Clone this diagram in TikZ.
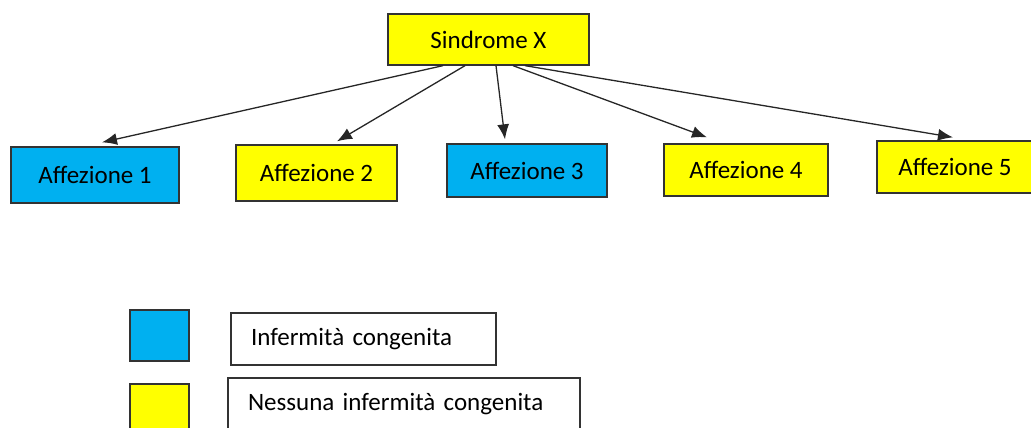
\documentclass[tikz,border=0pt]{standalone}
\usepackage{fontspec}
\setmainfont{Carlito}
\usetikzlibrary{arrows.meta}
\definecolor{cielo}{RGB}{0,176,240}
\definecolor{giallo}{RGB}{255,255,0}
\tikzset{
	box/.style={draw=black!80, line width=1.3pt, inner sep=0pt, text=black, font=\fontsize{25}{30}\selectfont},
	voce/.style={box, align=left, inner xsep=20pt, inner ysep=0pt},
	freccia/.style={draw=black!85, line width=1.3pt, -{Latex[length=15pt,width=12pt]}},
}

\begin{document}
\begin{tikzpicture}[x=1pt, y=-1pt]
			%%%%% START %%%%%
			\useasboundingbox (0, 0) rectangle (1031, 428);
			\clip (0, 0) rectangle (1031, 428);
			
			\node[box, fill=giallo, minimum width=201pt, minimum height=51pt] (sx) at (488.5, 39.5) {Sindrome X};
			
			\node[box, fill=cielo, minimum width=168pt, minimum height=56pt] (a1) at (95, 175) {Affezione 1};
			\node[box, fill=giallo, minimum width=161pt, minimum height=56pt] (a2) at (316.5, 173) {Affezione 2};
			\node[box, fill=cielo, minimum width=160pt, minimum height=53pt] (a3) at (527, 170.5) {Affezione 3};
			\node[box, fill=giallo, minimum width=164pt, minimum height=52pt] (a4) at (746, 170) {Affezione 4};
			\node[box, fill=giallo, minimum width=156pt, minimum height=52pt] (a5) at (955, 167) {Affezione 5};
			
			\draw[freccia] ([xshift=-45.5pt]sx.south) -- ([xshift=7pt, yshift=4pt]a1.north);
			\draw[freccia] ([xshift=-23.5pt]sx.south) -- ([xshift=20.5pt, yshift=3pt]a2.north);
			\draw[freccia] ([xshift=7.5pt]sx.south) -- ([xshift=-22pt, yshift=4pt]a3.north);
			\draw[freccia] ([xshift=24.5pt]sx.south) -- ([xshift=-39pt, yshift=6pt]a4.north);
			\draw[freccia] ([xshift=36.5pt]sx.south) -- ([xshift=-2pt, yshift=3pt]a5.north);
			
			% legenda
			\node[box, fill=cielo, minimum width=59pt, minimum height=51pt] (lb) at (159.5, 335.5) {};
			\node[voce, text width=225pt, minimum height=52pt] (tb) at (363.5, 339) {Infermità congenita};
			\node[box, fill=giallo, minimum width=59pt, minimum height=51pt] (lg) at (159.5, 409.5) {};
			\node[voce, text width=312pt, minimum height=52pt] (tg) at (404, 404) {Nessuna infermità congenita};
			
			%%%%% END %%%%%
\end{tikzpicture}
\end{document}
